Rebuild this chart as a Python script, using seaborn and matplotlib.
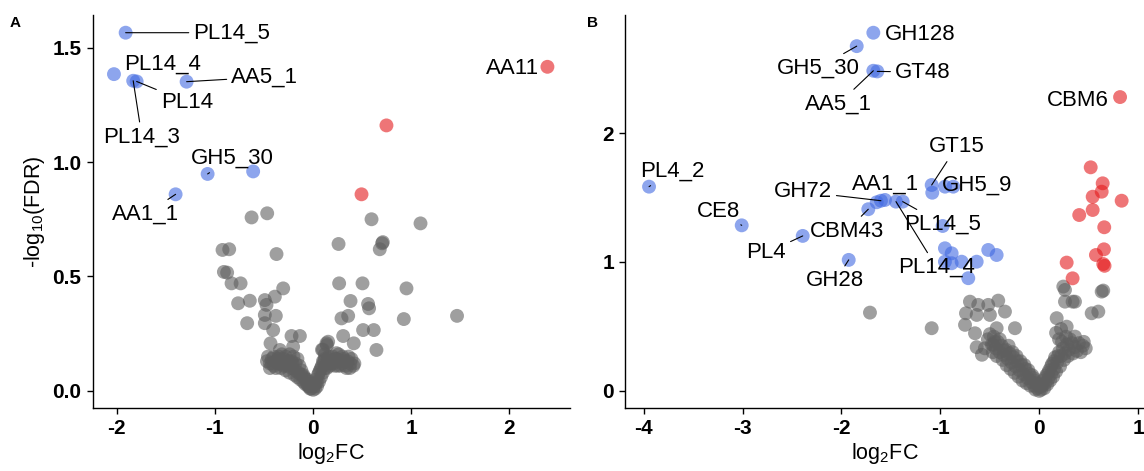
import numpy as np
import pandas as pd
import matplotlib
matplotlib.use("Agg")
import matplotlib.pyplot as plt
import seaborn as sns

# ---------------- Panel A data ----------------
a_blue_x = [-1.910, -2.029, -1.798, -1.833, -1.289, -1.075, -0.611, -1.401]
a_blue_y = [1.565, 1.384, 1.352, 1.355, 1.351, 0.948, 0.959, 0.859]
a_red_x = [2.387, 0.747, 0.493]
a_red_y = [1.416, 1.160, 0.859]
a_grey_x = [-0.627, -0.468, 0.595, 1.094, -0.923, -0.855, -0.373, 0.259, 0.703, 0.710, 0.679,
            -0.909, -0.876, -0.831, -0.739, -0.305, 0.265, 0.503, 0.951,
            -0.764, -0.645, -0.492, -0.390, -0.475, 0.381, 0.560, 0.570,
            -0.492, -0.380, -0.672, -0.492, 0.289, 0.357, 0.924, 1.466,
            -0.407, -0.220, -0.135, 0.306, 0.509, 0.618, 0.414, 0.645, -0.434, 0.153,
            -0.339, -0.204, 0.136, 0.238, 0.374,
            -0.47, -0.44, -0.42, -0.40, -0.38, -0.36, -0.35, -0.33, -0.31, -0.30, -0.28, -0.27,
            -0.25, -0.24, -0.22, -0.21, -0.19, -0.18, -0.16, -0.15, -0.13, -0.12, -0.10, -0.09,
            -0.08, -0.06, -0.05, -0.04, -0.03, -0.02, 0.00, 0.01,
            0.02, 0.03, 0.04, 0.05, 0.06, 0.07, 0.08, 0.09, 0.10, 0.11, 0.12, 0.14, 0.15, 0.17,
            0.19, 0.21, 0.23, 0.25, 0.27, 0.29, 0.31, 0.33, 0.35, 0.38, 0.41, 0.12, 0.09,
            -0.46, -0.44, -0.42, -0.40, -0.38, -0.36, -0.34, -0.32, -0.30, -0.28, -0.26, -0.24,
            -0.22, -0.20, -0.18, -0.16, -0.14, -0.12, -0.10, -0.08, -0.06, -0.04, -0.02, 0.00,
            0.02, 0.04,
            0.06, 0.08, 0.10, 0.12, 0.14, 0.16, 0.18, 0.20, 0.22, 0.24, 0.26, 0.28, 0.30, 0.32,
            0.34, 0.36, 0.39, 0.42, 0.10, 0.14]
a_grey_y = [0.758, 0.776, 0.750, 0.732, 0.616, 0.619, 0.598, 0.642, 0.645, 0.650, 0.619,
            0.520, 0.517, 0.470, 0.470, 0.448, 0.470, 0.470, 0.448,
            0.383, 0.394, 0.397, 0.412, 0.376, 0.393, 0.380, 0.361,
            0.332, 0.328, 0.296, 0.296, 0.317, 0.328, 0.314, 0.328,
            0.266, 0.240, 0.240, 0.240, 0.266, 0.266, 0.208, 0.179, 0.208, 0.215,
            0.179, 0.193, 0.208, 0.165, 0.100,
            0.13, 0.12, 0.14, 0.11, 0.13, 0.12, 0.15, 0.10, 0.12, 0.14, 0.09, 0.11,
            0.13, 0.08, 0.10, 0.12, 0.07, 0.09, 0.06, 0.08, 0.05, 0.07, 0.04, 0.06,
            0.03, 0.05, 0.02, 0.04, 0.01, 0.03, 0.005, 0.02,
            0.03, 0.05, 0.02, 0.07, 0.04, 0.09, 0.06, 0.11, 0.08, 0.13, 0.10, 0.12, 0.14, 0.11,
            0.13, 0.12, 0.14, 0.11, 0.13, 0.12, 0.14, 0.11, 0.13, 0.12, 0.11, 0.16, 0.18,
            0.15, 0.10, 0.12, 0.15, 0.10, 0.14, 0.12, 0.16, 0.11, 0.15, 0.12, 0.16,
            0.13, 0.15, 0.12, 0.14, 0.11, 0.09, 0.07, 0.05, 0.03, 0.02, 0.01, 0.03,
            0.01, 0.04,
            0.08, 0.10, 0.13, 0.14, 0.10, 0.15, 0.12, 0.15, 0.11, 0.14, 0.16, 0.11, 0.15, 0.13,
            0.10, 0.15, 0.14, 0.12, 0.18, 0.20]

a_lab_names = ["PL14_5", "PL14_4", "AA5_1", "PL14", "PL14_3", "GH5_30", "AA1_1", "AA11"]
a_lab_px = [-1.910, -2.029, -1.289, -1.798, -1.833, -1.075, -1.401, 2.387]
a_lab_py = [1.565, 1.384, 1.351, 1.352, 1.355, 0.948, 0.859, 1.416]
a_lab_tx = [-0.828, -1.530, -0.492, -1.286, -1.744, -0.828, -1.703, 2.030]
a_lab_ty = [1.565, 1.428, 1.371, 1.262, 1.109, 1.017, 0.773, 1.410]
a_lab_seg = [True, False, True, True, True, True, True, False]

# ---------------- Panel B data ----------------
b_blue_x = [-1.678, -1.846, -1.678, -1.638, -3.946, -3.009, -2.392, -1.927, -1.729, -1.601,
            -1.560, -1.381, -1.449, -1.088, -0.870, -1.644, -1.082, -0.953, -0.977,
            -0.954, -0.886, -0.954, -0.886, -0.785, -0.718, -0.633, -0.516, -0.431]
b_blue_y = [2.778, 2.674, 2.483, 2.478, 1.584, 1.284, 1.202, 1.016, 1.409, 1.475,
            1.481, 1.468, 1.468, 1.597, 1.584, 1.463, 1.537, 1.584, 1.279,
            1.106, 1.067, 1.002, 0.990, 1.002, 0.874, 1.002, 1.093, 1.054]
b_red_x = [0.817, 0.520, 0.641, 0.631, 0.540, 0.833, 0.540, 0.404, 0.657, 0.654, 0.573,
           0.647, 0.660, 0.277, 0.337]
b_red_y = [2.279, 1.734, 1.610, 1.545, 1.506, 1.475, 1.403, 1.364, 1.269, 1.098, 1.054,
           0.984, 0.970, 0.995, 0.873]
b_grey_x = [0.260, 0.647, 0.260, 0.361, 0.530, 0.597, -1.088, -0.701, -0.617, -0.516, -0.415,
            -0.347, -0.741, -0.633, -0.499, -0.751, -0.650, -0.633, -0.431, -0.246, -0.465,
            0.176, 0.277, 0.361, -1.712, 0.243, 0.337, 0.631,
            -0.52, -0.48, -0.46, -0.44, -0.42, -0.40, -0.38, -0.36, -0.34, -0.32, -0.30, -0.28,
            -0.26, -0.24, -0.22, -0.20, -0.18, -0.16, -0.14, -0.12, -0.10, -0.08, -0.06, -0.05,
            -0.03, -0.02, 0.00, 0.01, -0.55, -0.58,
            0.03, 0.04, 0.06, 0.07, 0.09, 0.10, 0.12, 0.13, 0.15, 0.16, 0.18, 0.20, 0.22, 0.24,
            0.26, 0.28, 0.30, 0.33, 0.36, 0.40, 0.44, 0.47, 0.20, 0.17, 0.22,
            -0.50, -0.47, -0.45, -0.43, -0.40, -0.37, -0.35, -0.33, -0.31, -0.29, -0.27, -0.25,
            -0.23, -0.21, -0.19, -0.17, -0.15, -0.13, -0.11, -0.09, -0.07, -0.05, -0.04, -0.01,
            0.02,
            0.05, 0.06, 0.08, 0.09, 0.11, 0.12, 0.14, 0.15, 0.17, 0.19, 0.21, 0.23, 0.25, 0.27,
            0.29, 0.31, 0.34, 0.38, 0.42, 0.45]
b_grey_y = [0.783, 0.778, 0.692, 0.692, 0.602, 0.615, 0.486, 0.692, 0.667, 0.667, 0.700,
            0.615, 0.602, 0.589, 0.589, 0.512, 0.447, 0.339, 0.486, 0.486, 0.357,
            0.564, 0.498, 0.421, 0.607, 0.809, 0.692, 0.770,
            0.40, 0.36, 0.42, 0.33, 0.38, 0.30, 0.35, 0.28, 0.32, 0.25, 0.29, 0.22,
            0.26, 0.19, 0.23, 0.16, 0.20, 0.13, 0.17, 0.10, 0.13, 0.07, 0.10, 0.04,
            0.06, 0.02, 0.00, 0.03, 0.33, 0.28,
            0.04, 0.08, 0.06, 0.12, 0.09, 0.16, 0.13, 0.21, 0.17, 0.26, 0.22, 0.30, 0.27, 0.33,
            0.29, 0.36, 0.32, 0.37, 0.34, 0.37, 0.35, 0.33, 0.40, 0.45, 0.48,
            0.44, 0.30, 0.38, 0.27, 0.40, 0.24, 0.31, 0.20, 0.35, 0.17, 0.30, 0.14,
            0.27, 0.11, 0.23, 0.08, 0.20, 0.06, 0.16, 0.04, 0.12, 0.08, 0.01, 0.05,
            0.01,
            0.02, 0.10, 0.05, 0.14, 0.08, 0.19, 0.11, 0.23, 0.15, 0.27, 0.19, 0.38, 0.24, 0.42,
            0.27, 0.40, 0.29, 0.31, 0.30, 0.38]

b_lab_names = ["GH128", "GH5_30", "GT48", "AA5_1", "CBM6", "PL4_2", "CE8", "PL4", "GH28",
               "CBM43", "GH72", "AA1_1", "GT15", "GH5_9", "PL14_5", "PL14_4"]
b_lab_px = [-1.678, -1.846, -1.638, -1.678, 0.817, -3.946, -3.009, -2.392, -1.927,
            -1.729, -1.601, -1.560, -1.088, -0.870, -1.381, -1.449]
b_lab_py = [2.778, 2.674, 2.478, 2.483, 2.279, 1.584, 1.284, 1.202, 1.016,
            1.409, 1.475, 1.481, 1.597, 1.584, 1.468, 1.468]
b_lab_tx = [-1.206, -2.235, -1.177, -2.032, 0.392, -3.712, -3.246, -2.761, -2.063,
            -1.949, -2.392, -1.553, -0.835, -0.633, -0.977, -1.037]
b_lab_ty = [2.767, 2.504, 2.473, 2.225, 2.256, 1.705, 1.395, 1.070, 0.853,
            1.240, 1.545, 1.605, 1.894, 1.597, 1.295, 0.956]
b_lab_seg = [False, True, True, True, False, True, True, True, True,
             True, True, False, True, False, True, True]

a_xticks = [-2, -1, 0, 1, 2]
a_yticks = [0.0, 0.5, 1.0, 1.5]
b_xticks = [-4, -3, -2, -1, 0, 1]
b_yticks = [0, 1, 2]

# ---------------- style ----------------
sns.set_style("ticks")
plt.rcParams['font.family'] = ['Liberation Sans', 'DejaVu Sans']
plt.rcParams['mathtext.fontset'] = 'custom'
plt.rcParams['mathtext.rm'] = 'Liberation Sans'
plt.rcParams['mathtext.it'] = 'Liberation Sans:italic'
plt.rcParams['mathtext.bf'] = 'Liberation Sans:bold'
for k in ['text.color', 'axes.labelcolor', 'xtick.color', 'ytick.color', 'axes.edgecolor']:
    plt.rcParams[k] = 'black'

palette = {"down": "#4169E1", "ns": "#5f5f5f", "up": "#E41A1C"}


def make_df(bx, by, rx, ry, gx, gy):
    return pd.DataFrame({
        "x": list(gx) + list(bx) + list(rx),
        "y": list(gy) + list(by) + list(ry),
        "grp": ["ns"] * len(gx) + ["down"] * len(bx) + ["up"] * len(rx),
    })


dfA = make_df(a_blue_x, a_blue_y, a_red_x, a_red_y, a_grey_x, a_grey_y)
dfB = make_df(b_blue_x, b_blue_y, b_red_x, b_red_y, b_grey_x, b_grey_y)

fig = plt.figure(figsize=(11.44, 4.71), dpi=100)
axA = fig.add_axes([0.081, 0.134, 0.417, 0.834])
axB = fig.add_axes([0.5466, 0.134, 0.4534, 0.834])


def draw(ax, df, names, px, py, tx, ty, seg, xlim, ylim, xt, yt, ylabel):
    sns.scatterplot(data=df, x="x", y="y", hue="grp", palette=palette, s=100,
                    alpha=0.6, linewidth=0, legend=False, ax=ax, clip_on=False)
    for n, a, b, c, d, s in zip(names, px, py, tx, ty, seg):
        if s:
            ax.annotate(n, xy=(a, b), xytext=(c, d), ha="center", va="center",
                        fontsize=16, color="black",
                        arrowprops=dict(arrowstyle="-", lw=0.8, color="black",
                                        shrinkA=1, shrinkB=0))
        else:
            ax.text(c, d, n, ha="center", va="center", fontsize=16, color="black")
    ax.set_xlim(*xlim)
    ax.set_ylim(*ylim)
    ax.set_xticks(xt)
    ax.set_yticks(yt)
    ax.set_xticklabels([("%g" % v) for v in xt], fontweight="bold", fontsize=15)
    ax.set_yticklabels([(("%.1f" % v) if isinstance(v, float) else str(v)) for v in yt],
                       fontweight="bold", fontsize=15)
    ax.tick_params(axis="both", length=4, width=1, color="black", labelcolor="black", pad=4)
    ax.set_xlabel(r"log$_2$FC", fontsize=15.5, labelpad=2, color="black")
    ax.set_ylabel(ylabel, fontsize=15.5, labelpad=4, color="black")
    for sp in ["top", "right"]:
        ax.spines[sp].set_visible(False)
    for sp in ["left", "bottom"]:
        ax.spines[sp].set_color("black")
        ax.spines[sp].set_linewidth(1)


draw(axA, dfA, a_lab_names, a_lab_px, a_lab_py, a_lab_tx, a_lab_ty, a_lab_seg,
     (-2.246, 2.614), (-0.074, 1.642), a_xticks, a_yticks, r"-log$_{10}$(FDR)")
draw(axB, dfB, b_lab_names, b_lab_px, b_lab_py, b_lab_tx, b_lab_ty, b_lab_seg,
     (-4.186, 1.059), (-0.132, 2.915), b_xticks, b_yticks, "")

fig.text(15 / 1144, 1 - 23 / 471, "A", fontsize=11, fontweight="bold", ha="center", va="center")
fig.text(592 / 1144, 1 - 23 / 471, "B", fontsize=11, fontweight="bold", ha="center", va="center")

fig.savefig("out.png", dpi=100)
